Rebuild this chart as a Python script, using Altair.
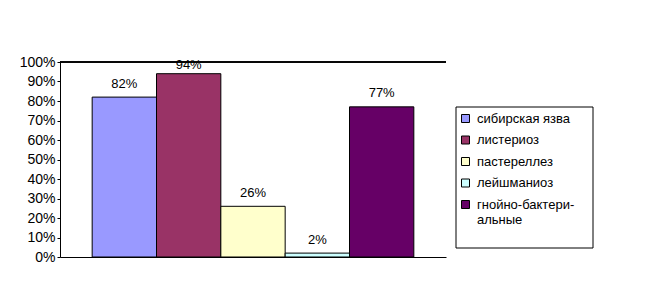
import altair as alt
import pandas as pd

diseases = ["сибирская язва", "листериоз", "пастереллез", "лейшманиоз", "гнойно-бактериальные"]
shares = [0.82, 0.94, 0.26, 0.02, 0.77]
colors = ["#9999FF", "#993366", "#FFFFCC", "#CCFFFF", "#660066"]
y_ticks = [0, 0.1, 0.2, 0.3, 0.4, 0.5, 0.6, 0.7, 0.8, 0.9, 1.0]

df = pd.DataFrame({"name": diseases, "share": shares})
FONT = "Liberation Sans"

y_scale = alt.Scale(domain=[0, 1], nice=False)
y_axis = alt.Axis(format=".0%", values=y_ticks, title=None, grid=False,
                  domainColor="black", tickColor="black", tickSize=3,
                  labelFontSize=14, labelFont=FONT, labelColor="black",
                  labelPadding=2, labelOverlap=False, labelFlush=False)
x_axis = alt.Axis(labels=False, ticks=False, title=None, domainColor="black", grid=False)
x_scale = alt.Scale(paddingInner=0, paddingOuter=0.5)

bars = alt.Chart(df).mark_bar(stroke="black", strokeWidth=1).encode(
    x=alt.X("name:N", sort=diseases, scale=x_scale, axis=x_axis),
    y=alt.Y("share:Q", scale=y_scale, axis=y_axis),
    color=alt.Color("name:N", sort=diseases,
                    scale=alt.Scale(domain=diseases, range=colors),
                    legend=alt.Legend(
                        orient="none", legendX=399, legendY=50, title=None,
                        symbolType="square", symbolSize=64,
                        symbolStrokeColor="black", symbolStrokeWidth=1,
                        labelFontSize=13, labelFont=FONT, labelColor="black",
                        rowPadding=7.5, padding=0, labelOffset=5,
                        labelExpr="datum.label == 'гнойно-бактериальные' ? ['гнойно-бактери-', 'альные'] : datum.label",
                    )),
)

top_rule = alt.Chart(df).mark_rule(color="black", strokeWidth=1).encode(
    y=alt.datum(1, scale=y_scale, axis=y_axis))

labels = alt.Chart(df).transform_calculate(ly="min(datum.share, 0.915)").mark_text(
    baseline="alphabetic", dy=-9.5, fontSize=13, font=FONT, color="black"
).encode(
    x=alt.X("name:N", sort=diseases, scale=x_scale, axis=x_axis),
    y=alt.Y("ly:Q", scale=y_scale, axis=y_axis),
    text=alt.Text("share:Q", format=".0%"),
)

box = alt.Chart(pd.DataFrame({"box": [0]})).mark_rect(
    fill="transparent", stroke="black", strokeWidth=1
).encode(x=alt.value(396), x2=alt.value(533), y=alt.value(45), y2=alt.value(186))

chart = alt.layer(bars, top_rule, labels, box).properties(
    width=386, height=195,
    padding={"left": 60, "top": 62, "right": 203, "bottom": 47},
    autosize=alt.AutoSizeParams(type="none"),
    background="white",
).configure_view(stroke=None)

chart.save("out.html", embed_options={"renderer": "svg", "actions": False})
